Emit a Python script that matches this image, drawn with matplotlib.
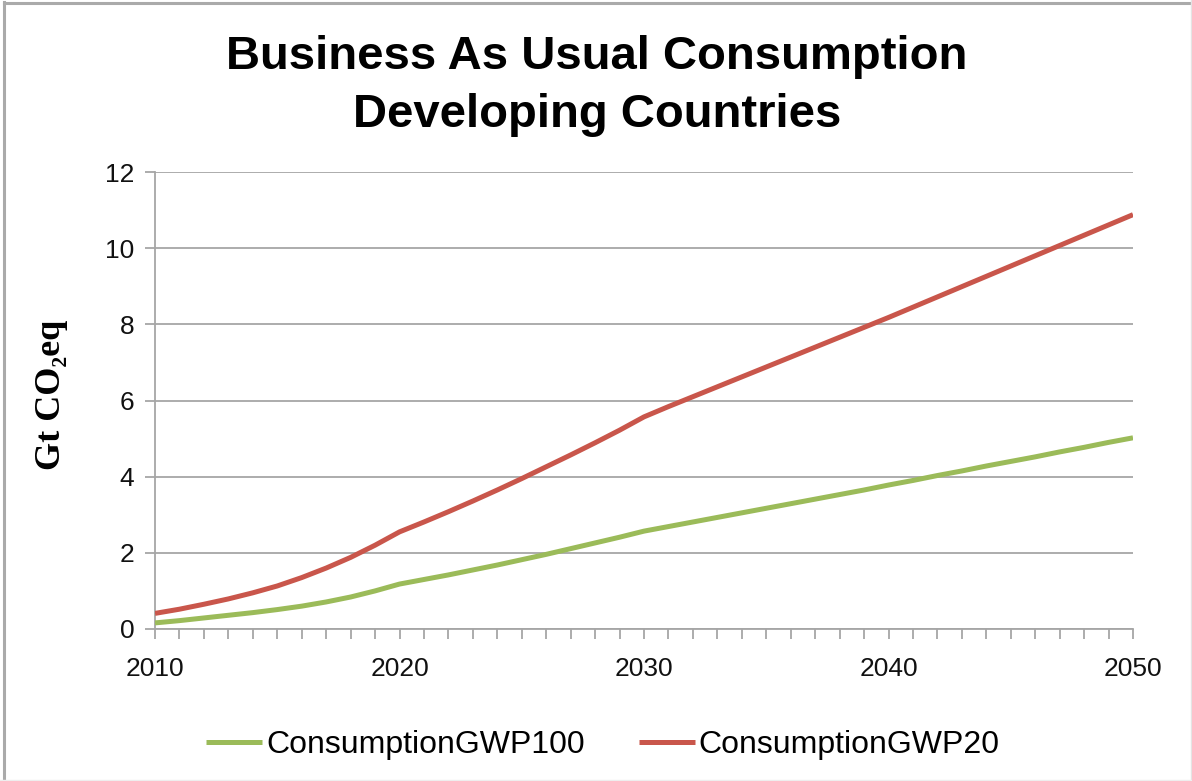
import numpy as np
import matplotlib
matplotlib.use('Agg')
import matplotlib.pyplot as plt
from matplotlib.lines import Line2D

plt.rcParams['font.family'] = ['Liberation Sans', 'DejaVu Sans']

# --- data ---
years = np.arange(2010, 2051)
gwp100 = [0.16, 0.22, 0.29, 0.36, 0.43, 0.51, 0.60, 0.71, 0.84, 1.00,
          1.18, 1.30, 1.42, 1.55, 1.68, 1.82, 1.96, 2.11, 2.26, 2.41,
          2.57, 2.69, 2.81, 2.93, 3.05, 3.17, 3.29, 3.41, 3.53, 3.65,
          3.78, 3.90, 4.03, 4.15, 4.28, 4.40, 4.52, 4.65, 4.77, 4.90, 5.02]
gwp20 = [0.41, 0.52, 0.65, 0.79, 0.95, 1.13, 1.35, 1.60, 1.88, 2.20,
         2.55, 2.81, 3.08, 3.36, 3.65, 3.95, 4.26, 4.57, 4.89, 5.22,
         5.57, 5.84, 6.10, 6.36, 6.62, 6.88, 7.14, 7.40, 7.66, 7.92,
         8.18, 8.45, 8.72, 8.99, 9.26, 9.53, 9.80, 10.07, 10.34, 10.61, 10.88]
labels = ['ConsumptionGWP100', 'ConsumptionGWP20']
colors = ['#9BBB59', '#C9564B']
yticks = [0, 2, 4, 6, 8, 10, 12]
xlabels = [2010, 2020, 2030, 2040, 2050]

W, H = 1192, 781
fig = plt.figure(figsize=(W / 100, H / 100), dpi=100)
fig.patch.set_facecolor('white')

# chart frame
fig.add_artist(Line2D([4 / W, 4 / W], [0, 1 - 2 / H], color='#aaaaaa', lw=2.2))
fig.add_artist(Line2D([4 / W, 1], [1 - 3 / H, 1 - 3 / H], color='#aaaaaa', lw=2.2))
fig.add_artist(Line2D([1 - 1.5 / W, 1 - 1.5 / W], [0, 1], color='#e4e4e4', lw=1))
fig.add_artist(Line2D([0, 1], [1.5 / H, 1.5 / H], color='#eeeeee', lw=1))

ax = fig.add_axes([155 / W, 152 / H, 978 / W, 457 / H])
ax.plot(years, gwp100, color=colors[0], lw=3.6, solid_capstyle='butt', label=labels[0], zorder=3)
ax.plot(years, gwp20, color=colors[1], lw=3.6, solid_capstyle='butt', label=labels[1], zorder=3)

ax.set_xlim(2010, 2050)
ax.set_ylim(0, 12)
ax.set_yticks(yticks)
ax.set_xticks(years)
ax.set_xticklabels([str(y) if y in xlabels else '' for y in years])
ax.yaxis.grid(True, color='#a6a6a6', lw=1.3)
ax.set_axisbelow(True)
for s in ['top', 'right']:
    ax.spines[s].set_visible(False)
for s in ['left', 'bottom']:
    ax.spines[s].set_color('#a6a6a6')
    ax.spines[s].set_linewidth(1.3)
ax.tick_params(axis='both', colors='#a6a6a6', labelcolor='#111111', labelsize=19,
               length=7, width=1.3, direction='out')
ax.tick_params(axis='x', pad=13)
ax.tick_params(axis='y', pad=8)

fig.text(52 / W, 1 - 395 / H, 'Gt CO₂eq', rotation=90, ha='center', va='center',
         fontsize=26, fontweight='bold', family=['Liberation Serif', 'DejaVu Serif'])

fig.text(597 / W, 1 - 86 / H, 'Business As Usual Consumption\nDeveloping Countries',
         ha='center', va='center', fontsize=34, fontweight='bold', linespacing=1.4)

fig.legend(loc='center', bbox_to_anchor=(603 / W, 1 - 745 / H), ncol=2, frameon=False,
           fontsize=23, handlelength=1.75, handletextpad=0.12, columnspacing=1.7)

fig.savefig('out.png', dpi=100, facecolor='white')
